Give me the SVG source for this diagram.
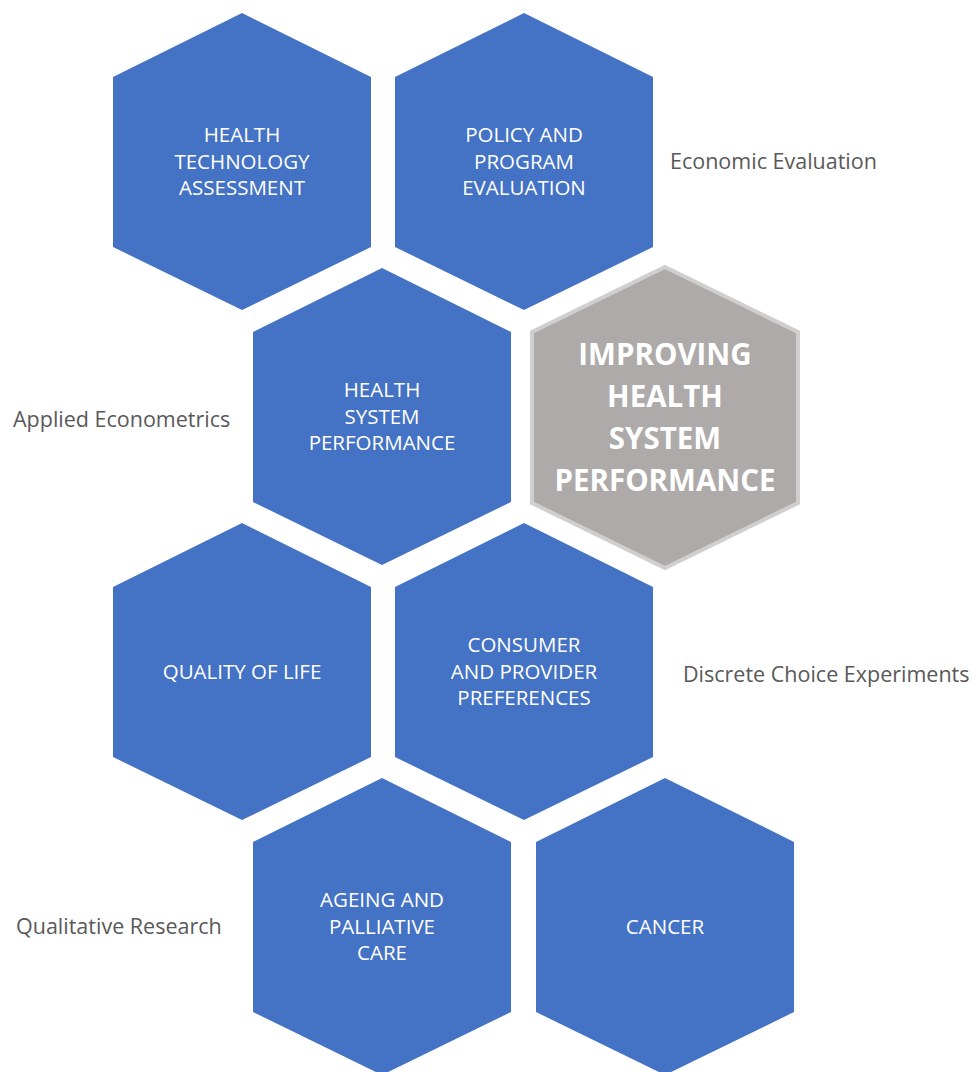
<svg xmlns="http://www.w3.org/2000/svg" width="978" height="1072" viewBox="0 0 978 1072">
<style>
.hex{fill:#4472c4}
.core{fill:#aeaaaa;stroke:#d0cece;stroke-width:4}
.t{font-family:"Open Sans","Noto Sans",sans-serif;font-size:20.5px;fill:#ffffff;text-anchor:middle}
.tb{font-family:"Open Sans","Noto Sans",sans-serif;font-size:29.5px;font-weight:bold;fill:#ffffff;text-anchor:middle}
.side{font-family:"Open Sans","Noto Sans",sans-serif;font-size:21.5px;fill:#595959}
</style>
<defs>
<polygon id="hx" points="0,-148.5 129,-84.5 129,85.5 0,148.5 -129,85.5 -129,-84.5"/>
</defs>
<rect width="978" height="1072" fill="#ffffff"/>
<g id="hta">
<use href="#hx" class="hex" x="242" y="161.5"/>
<text class="t" x="242" y="141.5">HEALTH</text>
<text class="t" x="242" y="168.5">TECHNOLOGY</text>
<text class="t" x="242" y="195">ASSESSMENT</text>
</g>
<g id="ppe">
<use href="#hx" class="hex" x="524" y="161.5"/>
<text class="t" x="524" y="141.5">POLICY AND</text>
<text class="t" x="524" y="168.5">PROGRAM</text>
<text class="t" x="524" y="195">EVALUATION</text>
</g>
<g id="hsp">
<use href="#hx" class="hex" x="382" y="416.5"/>
<text class="t" x="382" y="396.5">HEALTH</text>
<text class="t" x="382" y="423.5">SYSTEM</text>
<text class="t" x="382" y="450">PERFORMANCE</text>
</g>
<g id="core">
<polygon class="core" points="665,267 798,332 798,503 665,568 532,503 532,332"/>
<text class="tb" x="665" y="365">IMPROVING</text>
<text class="tb" x="665" y="407">HEALTH</text>
<text class="tb" x="665" y="449">SYSTEM</text>
<text class="tb" x="665" y="491">PERFORMANCE</text>
</g>
<g id="qol">
<use href="#hx" class="hex" x="242" y="671.5"/>
<text class="t" x="242" y="678.5">QUALITY OF LIFE</text>
</g>
<g id="cpp">
<use href="#hx" class="hex" x="524" y="671.5"/>
<text class="t" x="524" y="651.5">CONSUMER</text>
<text class="t" x="524" y="678.5">AND PROVIDER</text>
<text class="t" x="524" y="705">PREFERENCES</text>
</g>
<g id="apc">
<use href="#hx" class="hex" x="382" y="926.5"/>
<text class="t" x="382" y="906.5">AGEING AND</text>
<text class="t" x="382" y="933.5">PALLIATIVE</text>
<text class="t" x="382" y="960">CARE</text>
</g>
<g id="cancer">
<use href="#hx" class="hex" x="665" y="926.5"/>
<text class="t" x="665" y="933.5">CANCER</text>
</g>
<g id="labels">
<text class="side" x="670" y="168.5">Economic Evaluation</text>
<text class="side" x="13" y="427">Applied Econometrics</text>
<text class="side" x="683" y="682">Discrete Choice Experiments</text>
<text class="side" x="16" y="933.5">Qualitative Research</text>
</g>
<g id="connectors"></g>
</svg>
